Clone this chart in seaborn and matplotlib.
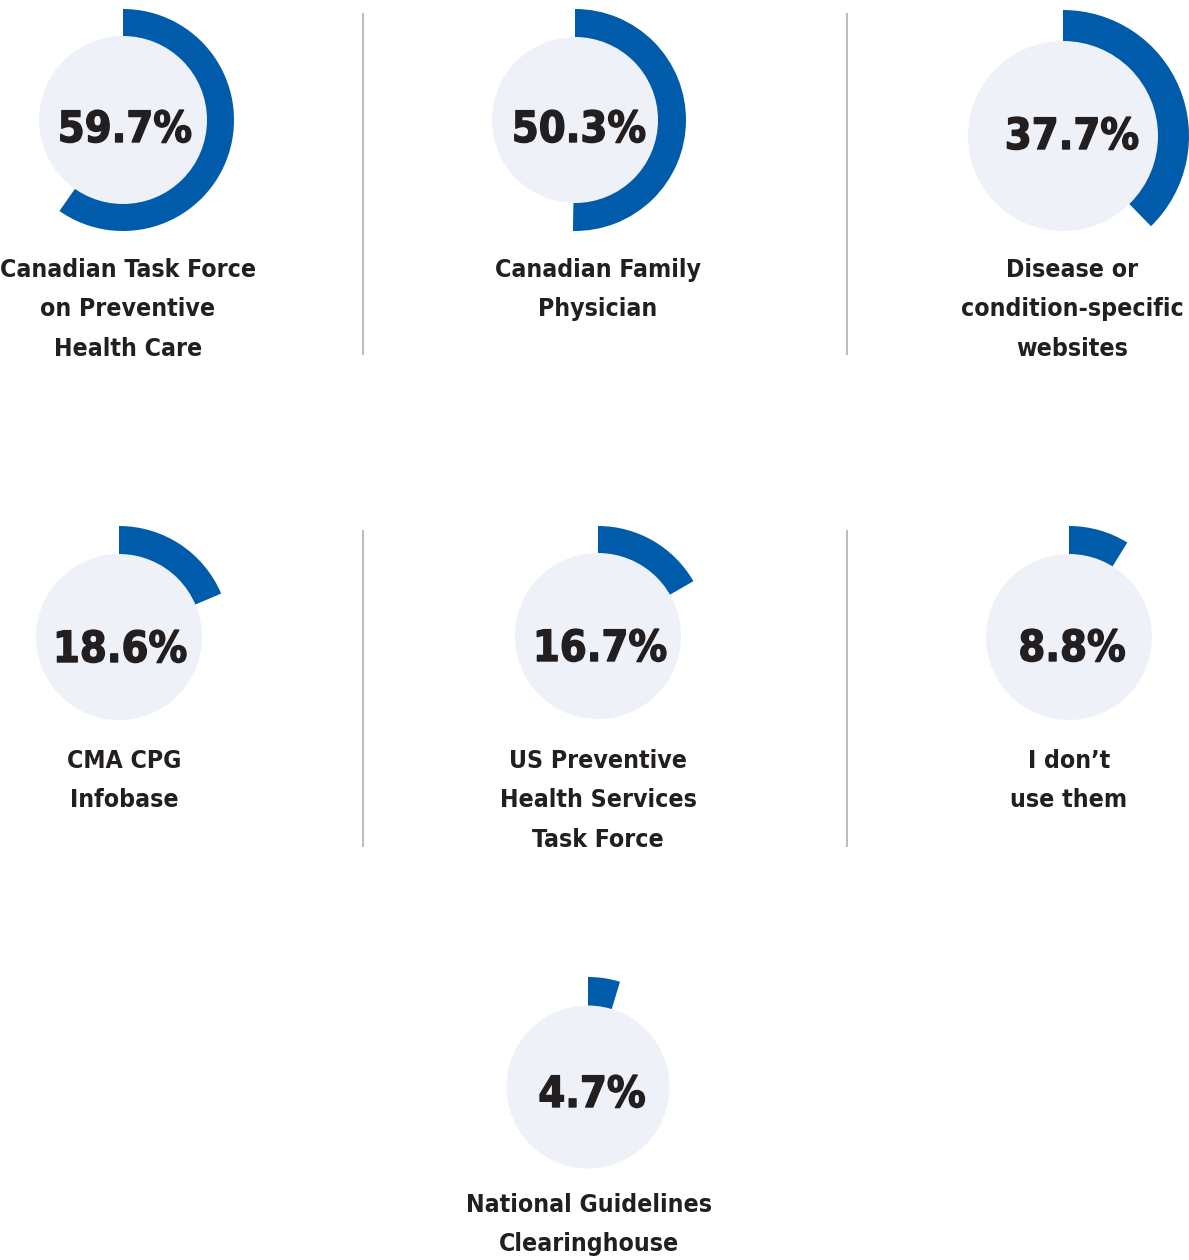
import matplotlib
matplotlib.use("Agg")
import matplotlib.pyplot as plt
from matplotlib import font_manager as fm
from matplotlib import patheffects as pe
from matplotlib.patches import Wedge, Circle
import seaborn as sns

# ---- data ----
labels = [
    ["Canadian Task Force", "on Preventive", "Health Care"],
    ["Canadian Family", "Physician"],
    ["Disease or", "condition-specific", "websites"],
    ["CMA CPG", "Infobase"],
    ["US Preventive", "Health Services", "Task Force"],
    ["I don\u2019t", "use them"],
    ["National Guidelines", "Clearinghouse"],
]
values = [59.7, 50.3, 37.7, 18.6, 16.7, 8.8, 4.7]

# ---- layout (pixel coordinates, y downward) ----
W, H = 1189, 1260
centers = [(123, 120), (575, 120), (1063, 136), (119, 637), (598, 636), (1069, 637), (588, 1087)]
r_inner = [84, 83, 95, 83, 83, 83, 81.5]
r_outer = [111, 111, 126, 111, 110, 111, 110]
pct_pos = [(125, 142), (579, 142), (1072, 149), (120, 662), (600, 661), (1072, 661), (592, 1107)]
label_x = [128, 598, 1072, 124, 598, 1069, 589]
label_base = [277, 277, 277, 768, 768, 768, 1212]
line_gap = 39.3
dividers = [(363, 13, 355), (847, 13, 355), (363, 530, 847), (847, 530, 847)]

ARC = "#005BAA"
DISC = "#EEF1F8"
TXT = "#231F20"
DIV = "#BDBDBD"

sns.set_theme(style="white")
plt.rcParams["font.family"] = ["DejaVu Sans"]

FILES = [f.fname for f in fm.fontManager.ttflist]

def pick_font(wanted):
    for w in wanted:
        for f in FILES:
            name = f.lower().replace(" ", "").rsplit("/", 1)[-1]
            if name.startswith(w.lower()):
                return fm.FontProperties(fname=f)
    return fm.FontProperties(family="DejaVu Sans", weight="bold")

lab_base_fp = pick_font(["LiberationSansNarrow-Bold.", "NotoSans-ExtraCondensedBold.",
                         "NotoSans-CondensedBold.", "DejaVuSansCondensed-Bold.",
                         "RobotoCondensed-Bold.", "OpenSans_Condensed-Bold.", "Roboto-Bold."])
pct_base_fp = pick_font(["NotoSans-ExtraCondensedExtraBold.", "NotoSans-ExtraCondensedBlack.",
                         "NotoSans-CondensedExtraBold.", "NotoSans-CondensedBlack.",
                         "LiberationSansNarrow-Bold.", "NotoSans-ExtraCondensedBold.",
                         "NotoSans-CondensedBold.", "DejaVuSansCondensed-Bold.",
                         "RobotoCondensed-Bold.", "Roboto-Bold."])

fig = plt.figure(figsize=(W / 100, H / 100), dpi=100)
ax = fig.add_axes([0, 0, 1, 1])
ax.set_xlim(0, W)
ax.set_ylim(0, H)
ax.set_aspect("equal")
ax.axis("off")
renderer = fig.canvas.get_renderer()

def fit_size(base, sample, target_w, max_size):
    fp = base.copy()
    fp.set_size(20)
    t = ax.text(0, 0, sample, fontproperties=fp)
    w = t.get_window_extent(renderer).width
    t.remove()
    return min(max_size, 20 * target_w / w)

pct_size = fit_size(pct_base_fp, "59.7%", 134, 39)
lab_size = fit_size(lab_base_fp, "Canadian Task Force", 256, 24)
pct_fp = pct_base_fp.copy(); pct_fp.set_size(pct_size)
lab_fp = lab_base_fp.copy(); lab_fp.set_size(lab_size)
heavy = [pe.withStroke(linewidth=1.0, foreground=TXT)]

def Y(y):
    return H - y

for (x, y0, y1) in dividers:
    ax.plot([x, x], [Y(y0), Y(y1)], color=DIV, lw=1.5, solid_capstyle="butt")

for i, v in enumerate(values):
    cx, cy = centers[i]
    theta2 = 90
    theta1 = 90 - 360 * v / 100
    ax.add_patch(Wedge((cx, Y(cy)), r_outer[i], theta1, theta2,
                       width=r_outer[i] - r_inner[i] + 2, facecolor=ARC, edgecolor="none", zorder=2))
    ax.add_patch(Circle((cx, Y(cy)), r_inner[i], facecolor=DISC, edgecolor="none", zorder=3))
    px, py = pct_pos[i]
    ax.text(px, Y(py), f"{v}%", ha="center", va="baseline", fontproperties=pct_fp,
            color=TXT, zorder=4, path_effects=heavy)
    for j, line in enumerate(labels[i]):
        ax.text(label_x[i], Y(label_base[i] + j * line_gap), line, ha="center", va="baseline",
                fontproperties=lab_fp, color=TXT, zorder=4)

fig.savefig("out.png", dpi=100, facecolor="white")
